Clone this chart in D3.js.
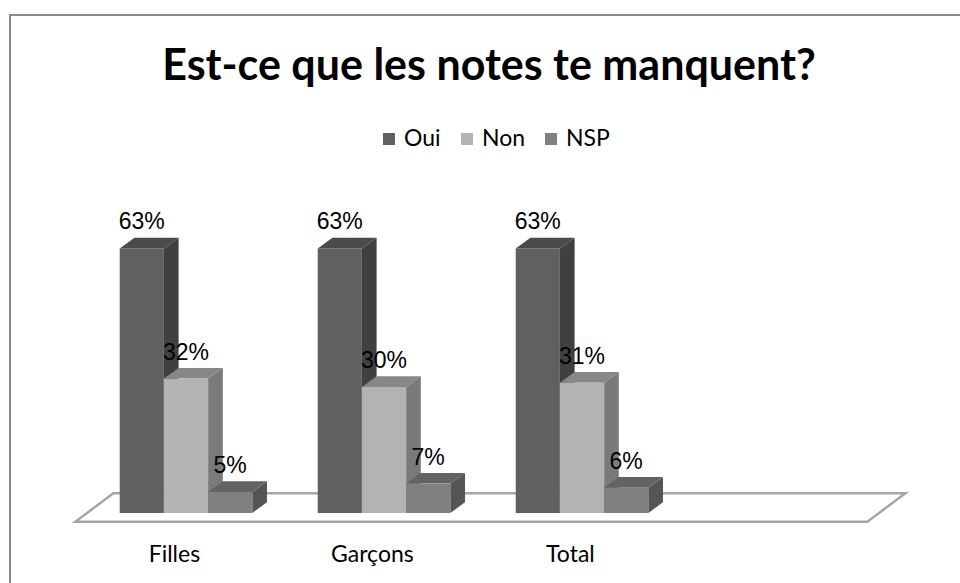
<!DOCTYPE html>
<html>
<head>
<meta charset="utf-8">
<script src="https://cdn.jsdelivr.net/npm/d3@7"></script>
<style>
  html, body { margin: 0; padding: 0; background: #fff; }
  svg { display: block; }
</style>
</head>
<body>
<div id="chart"></div>
<script>
const chartTitle = 'Est-ce que les notes te manquent?';
const categories = ['Filles', 'Garçons', 'Total'];
const seriesNames = ['Oui', 'Non', 'NSP'];
const oui = [63, 63, 63];
const non = [32, 30, 31];
const nsp = [5, 7, 6];

const seriesValues = [oui, non, nsp];
const FRONT = ['#606060', '#b3b3b3', '#808080'];
const SIDE = ['#404040', '#7a7a7a', '#555555'];
const TOP = ['#4b4b4b', '#878787', '#636363'];

const width = 960, height = 583;
const font = 'Lato, "Open Sans", sans-serif';

const svg = d3.select('#chart').append('svg')
  .attr('width', width)
  .attr('height', height);

// chart frame (runs past the right and bottom edges)
svg.append('rect')
  .attr('x', 10).attr('y', 15)
  .attr('width', 1000).attr('height', 620)
  .attr('fill', '#fff')
  .attr('stroke', '#8c8c8c')
  .attr('stroke-width', 2);

svg.append('text')
  .attr('x', 489).attr('y', 80)
  .attr('text-anchor', 'middle')
  .attr('font-family', font)
  .attr('font-weight', 700)
  .attr('font-size', 43)
  .attr('fill', '#000')
  .text(chartTitle);

// legend
const legendPos = [383, 461, 545];
const legend = svg.append('g');
seriesNames.forEach((name, i) => {
  const g = legend.append('g').attr('transform', `translate(${legendPos[i]},133)`);
  g.append('rect').attr('width', 12).attr('height', 12).attr('fill', FRONT[i]);
  g.append('text')
    .attr('x', 21).attr('y', 13)
    .attr('font-family', font)
    .attr('font-size', 23)
    .attr('fill', '#000')
    .text(name);
});

// the source chart keeps an empty fourth column slot
const x0 = d3.scaleBand()
  .domain([...categories, ''])
  .range([87, 879]);

const x1 = d3.scaleBand()
  .domain(seriesNames)
  .range([0, x0.bandwidth()])
  .paddingOuter(0.74);

const y = d3.scaleLinear()
  .domain([0, 100])
  .range([513, 93]);

const depth = { dx: 14.7, dy: -10.7 };
const floorDepth = { dx: 38, dy: -28.5 };
const floorFront = 521.7;

// floor: front edge sits a little below the bars' base line
const fShift = (floorFront - y(0)) / floorDepth.dy * floorDepth.dx;
const fx0 = x0.range()[0] + fShift;
const fx1 = x0.range()[1] + fShift;
svg.append('polygon')
  .attr('points', [
    [fx0, floorFront],
    [fx1, floorFront],
    [fx1 + floorDepth.dx, floorFront + floorDepth.dy],
    [fx0 + floorDepth.dx, floorFront + floorDepth.dy]
  ].map(p => p.join(',')).join(' '))
  .attr('fill', '#fff')
  .attr('stroke', '#a6a6a6')
  .attr('stroke-width', 2.5);

const bars = svg.append('g');
categories.forEach((cat, ci) => {
  seriesNames.forEach((s, si) => {
    const v = seriesValues[si][ci];
    const xl = x0(cat) + x1(s);
    const w = x1.bandwidth();
    const yt = y(v), yb = y(0);
    const g = bars.append('g');
    g.append('polygon')
      .attr('points', [
        [xl + w, yt], [xl + w + depth.dx, yt + depth.dy],
        [xl + w + depth.dx, yb + depth.dy], [xl + w, yb]
      ].map(p => p.join(',')).join(' '))
      .attr('fill', SIDE[si]);
    g.append('polygon')
      .attr('points', [
        [xl, yt], [xl + depth.dx, yt + depth.dy],
        [xl + w + depth.dx, yt + depth.dy], [xl + w, yt]
      ].map(p => p.join(',')).join(' '))
      .attr('fill', TOP[si]);
    g.append('rect')
      .attr('x', xl).attr('y', yt)
      .attr('width', w).attr('height', yb - yt)
      .attr('fill', FRONT[si]);
  });
});

// data labels
categories.forEach((cat, ci) => {
  seriesNames.forEach((s, si) => {
    const v = seriesValues[si][ci];
    svg.append('text')
      .attr('x', x0(cat) + x1(s) + x1.bandwidth() / 2)
      .attr('y', y(v) - 19)
      .attr('text-anchor', 'middle')
      .attr('font-family', '"Liberation Sans", Arial, sans-serif')
      .attr('font-size', 23)
      .attr('fill', '#000')
      .text(v + '%');
  });
});

// category labels along the floor's front edge
const xFront = d3.scaleBand().domain([...categories, '']).range([fx0, fx1]);
svg.append('g')
  .selectAll('text')
  .data(categories)
  .join('text')
  .attr('x', d => xFront(d) + xFront.bandwidth() / 2)
  .attr('y', 562)
  .attr('text-anchor', 'middle')
  .attr('font-family', font)
  .attr('font-size', 23)
  .attr('fill', '#000')
  .text(d => d);
</script>
</body>
</html>
